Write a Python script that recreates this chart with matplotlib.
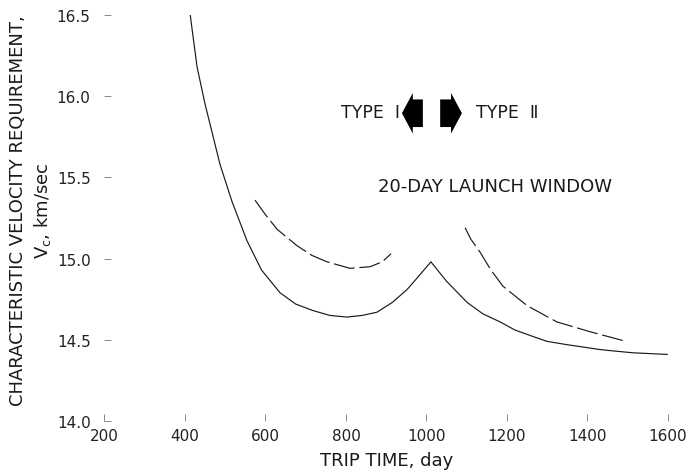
import matplotlib.pyplot as plt

# trip time (day) vs characteristic velocity (km/sec)
opt_t = [413, 430, 450, 470, 487, 517, 554, 590, 636, 675, 718, 760, 802,
         840, 877, 915, 952, 980, 1011, 1050, 1101, 1140, 1183, 1220, 1265,
         1300, 1349, 1390, 1431, 1470, 1513, 1555, 1598]
opt_v = [16.50, 16.18, 15.95, 15.75, 15.58, 15.35, 15.11, 14.93, 14.79,
         14.72, 14.68, 14.65, 14.64, 14.65, 14.67, 14.73, 14.81, 14.89, 14.98,
         14.86, 14.73, 14.66, 14.61, 14.56, 14.52, 14.49, 14.47, 14.455, 14.44,
         14.43, 14.42, 14.415, 14.41]

# 20-day launch window, type I and type II branches
win1_t = [574, 600, 629, 678, 715, 753, 810, 860, 890, 912]
win1_v = [15.36, 15.27, 15.18, 15.08, 15.02, 14.98, 14.94, 14.95, 14.98, 15.03]
win2_t = [1096, 1110, 1133, 1160, 1190, 1250, 1324, 1406, 1496]
win2_v = [15.19, 15.12, 15.04, 14.93, 14.83, 14.71, 14.61, 14.55, 14.49]

xticks = [200, 400, 600, 800, 1000, 1200, 1400, 1600]
yticks = [14.0, 14.5, 15.0, 15.5, 16.0, 16.5]

plt.rcParams['font.family'] = ['DejaVu Sans']
fig = plt.figure(figsize=(6.98, 4.77), dpi=100)
ax = fig.add_axes([0.1497, 0.1153, 0.8073, 0.8512])

ink = '#1a1a1a'
ax.plot(opt_t, opt_v, color=ink, lw=0.85)
ax.plot(win1_t, win1_v, color=ink, lw=0.85, linestyle=(0, (18, 4)))
ax.plot(win2_t, win2_v, color=ink, lw=0.85, linestyle=(0, (18, 4)))

# direction arrows
ax.arrow(991, 15.895, -52, 0, width=0.17, head_width=0.25, head_length=27,
         length_includes_head=True, color='black', lw=0)
ax.arrow(1034, 15.895, 54, 0, width=0.17, head_width=0.25, head_length=27,
         length_includes_head=True, color='black', lw=0)
ax.text(933, 15.90, 'TYPE  Ⅰ', ha='right', va='center', fontsize=12.5,
        color=ink)
ax.text(1123, 15.90, 'TYPE  Ⅱ', ha='left', va='center', fontsize=12.5,
        color=ink)
ax.text(880, 15.45, '20-DAY LAUNCH WINDOW', ha='left', va='center',
        fontsize=13, color=ink)

ax.set_xlim(200, 1600)
ax.set_ylim(14.0, 16.5)
ax.set_xticks(xticks)
ax.set_xticklabels([str(t) for t in xticks])
ax.set_yticks(yticks)
ax.set_yticklabels(['%.1f' % v for v in yticks])
for s in ax.spines.values():
    s.set_visible(False)
ax.tick_params(direction='in', length=5, width=0.6, color='#777777',
               labelsize=11, labelcolor='#222222')
ax.tick_params(axis='y', pad=10)
ax.tick_params(axis='x', pad=5)

ax.set_xlabel('TRIP TIME, day', fontsize=13, color=ink, labelpad=6)
ax.set_ylabel('CHARACTERISTIC VELOCITY REQUIREMENT,\n'
              '$\\mathregular{V_c}$, km/sec',
              fontsize=13, color=ink, linespacing=1.3)
ax.yaxis.set_label_coords(-0.092, 0.52)

fig.savefig('out.png', dpi=100)
